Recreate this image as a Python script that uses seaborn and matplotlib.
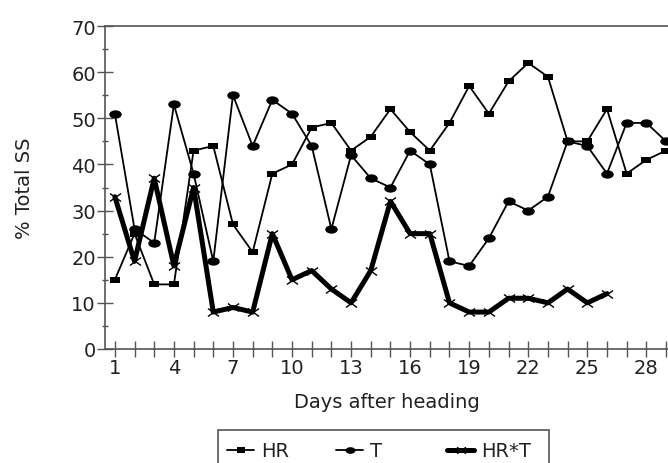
import numpy as np
import pandas as pd
import seaborn as sns
import matplotlib
matplotlib.use("Agg")
import matplotlib.pyplot as plt
from matplotlib.patches import Rectangle
from matplotlib.ticker import MultipleLocator
from matplotlib.path import Path
from matplotlib.transforms import Affine2D

# ---- data ----
days = list(range(1, 30))
hr_vals = [15, 25, 14, 14, 43, 44, 27, 21, 38, 40, 48, 49, 43, 46, 52,
           47, 43, 49, 57, 51, 58, 62, 59, 45, 45, 52, 38, 41, 43]
t_vals = [51, 26, 23, 53, 38, 19, 55, 44, 54, 51, 44, 26, 42, 37, 35,
          43, 40, 19, 18, 24, 32, 30, 33, 45, 44, 38, 49, 49, 45]
hrt_days = list(range(1, 27))
hrt_vals = [33, 19, 37, 18, 35, 8, 9, 8, 25, 15, 17, 13, 10, 17, 32,
            25, 25, 10, 8, 8, 11, 11, 10, 13, 10, 12]
series_labels = ["HR", "T", "HR*T"]
x_ticks = list(range(1, 30, 3))
y_ticks = list(range(0, 71, 10))

sns.set_style("white")
plt.rcParams['font.family'] = ['DejaVu Sans']

# horizontally stretched markers, as in the reference
ell = Path.unit_circle().transformed(Affine2D().scale(1.5, 1.0))
rect = Path([(-1.6, -1), (1.6, -1), (1.6, 1), (-1.6, 1), (-1.6, -1)],
            [Path.MOVETO, Path.LINETO, Path.LINETO, Path.LINETO, Path.CLOSEPOLY])
xmark = Path([(-1.4, -1), (1.4, 1), (-1.4, 1), (1.4, -1)],
             [Path.MOVETO, Path.LINETO, Path.MOVETO, Path.LINETO])

W, H = 668, 464
FS = 14
fig = plt.figure(figsize=(W / 100, H / 100), dpi=100)
ax = fig.add_axes([105 / W, 1 - 350 / H, (668 - 105) / W, (350 - 27) / H])

txt = '#222222'
spine_c = '#555555'

sns.lineplot(x=days, y=hr_vals, ax=ax, color='black', linewidth=1.3,
             marker=rect, markersize=7.5, markeredgewidth=0, label=series_labels[0])
sns.lineplot(x=days, y=t_vals, ax=ax, color='black', linewidth=1.3,
             marker=ell, markersize=9, markeredgewidth=0, label=series_labels[1])
sns.lineplot(x=hrt_days, y=hrt_vals, ax=ax, color='black', linewidth=3.6,
             marker=xmark, markersize=8, markeredgewidth=1.0,
             markeredgecolor='black', markerfacecolor='none', label=series_labels[2])

handles, labels = ax.get_legend_handles_labels()
ax.get_legend().remove()

ax.set_xlim(0.5, 29.1)
ax.set_ylim(0, 70)
ax.set_xticks(days)
ax.set_xticklabels([str(d) if d in x_ticks else '' for d in days])
ax.set_yticks(y_ticks)
ax.yaxis.set_minor_locator(MultipleLocator(5))

for s in ['left', 'bottom', 'top']:
    ax.spines[s].set_color(spine_c)
    ax.spines[s].set_linewidth(1.2)
ax.spines['right'].set_visible(False)

ax.tick_params(axis='x', which='major', direction='inout', length=11, width=1,
               color=spine_c, labelsize=FS, labelcolor=txt, pad=1, bottom=True)
ax.tick_params(axis='y', which='major', direction='inout', length=11, width=1,
               color=spine_c, labelsize=FS, labelcolor=txt, pad=1, left=True)
ax.tick_params(axis='y', which='minor', direction='inout', length=5, width=1,
               color=spine_c, left=True)

ax.set_xlabel("Days after heading", fontsize=FS, color=txt, labelpad=11)
ax.set_ylabel("% Total SS", fontsize=FS, color=txt)
ax.yaxis.set_label_coords((34 - 105) / (668 - 105), 0.5)

# legend frame (cut off at the bottom, like the reference)
fig.patches.append(Rectangle((218 / W, 1 - 475 / H), (549 - 218) / W, (475 - 431) / H,
                             transform=fig.transFigure, fill=False,
                             edgecolor=spine_c, linewidth=1.2))
for h, l, xp in zip(handles, labels, [227, 336, 447]):
    fig.legend([h], [l], loc='center left', bbox_to_anchor=(xp / W, 1 - 452 / H),
               frameon=False, fontsize=FS, handlelength=1.4, handletextpad=0.35,
               borderpad=0, borderaxespad=0, markerscale=0.8, labelcolor=txt)

fig.savefig("out.png", dpi=100)
